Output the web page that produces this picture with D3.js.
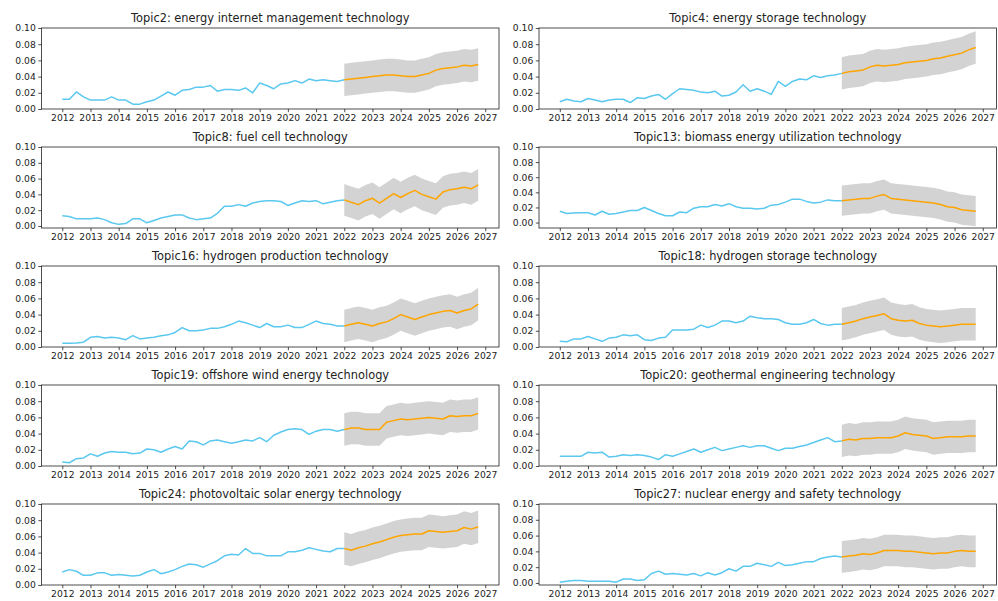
<!DOCTYPE html>
<html>
<head>
<meta charset="utf-8">
<script src="https://cdn.jsdelivr.net/npm/d3@7"></script>
<style>
  body { margin: 0; background: #fff; }
  text { font-family: "DejaVu Sans", sans-serif; fill: #222; }
</style>
</head>
<body>
<script>
// topic titles, in panel order (row by row, left then right)
var titles = [
    "Topic2: energy internet management technology",
    "Topic4: energy storage technology",
    "Topic8: fuel cell technology",
    "Topic13: biomass energy utilization technology",
    "Topic16: hydrogen production technology",
    "Topic18: hydrogen storage technology",
    "Topic19: offshore wind energy technology",
    "Topic20: geothermal engineering technology",
    "Topic24: photovoltaic solar energy technology",
    "Topic27: nuclear energy and safety technology"
];

var yearTicks = [2012, 2013, 2014, 2015, 2016, 2017, 2018, 2019, 2020, 2021, 2022, 2023, 2024, 2025, 2026, 2027];
var valueTicks = [0, 0.02, 0.04, 0.06, 0.08, 0.10];

var historyStart = 2012;   // quarterly history, 2012Q1 .. 2021Q4
var forecastStart = 2022;  // quarterly forecast, 2022Q1 .. 2026Q4
var ciHalfWidth = 0.02;    // half-width of the grey confidence band

// history (40 quarters)
var hist2  = [0.012,0.012,0.021,0.015,0.011,0.011,0.011,0.015,0.011,0.011,0.006,0.006,0.009,0.011,0.016,0.021,0.017,0.023,0.024,0.027,0.027,0.029,0.022,0.024,0.024,0.023,0.026,0.020,0.032,0.029,0.025,0.031,0.032,0.035,0.032,0.037,0.035,0.036,0.035,0.034];
var hist4  = [0.009,0.012,0.010,0.009,0.013,0.011,0.009,0.011,0.012,0.012,0.008,0.014,0.013,0.016,0.018,0.012,0.019,0.025,0.024,0.023,0.021,0.020,0.022,0.016,0.017,0.021,0.030,0.022,0.025,0.022,0.018,0.034,0.028,0.034,0.037,0.036,0.041,0.039,0.041,0.042];
var hist8  = [0.013,0.012,0.009,0.009,0.009,0.010,0.008,0.004,0.002,0.003,0.009,0.009,0.004,0.007,0.010,0.012,0.014,0.014,0.010,0.008,0.009,0.010,0.016,0.025,0.025,0.027,0.025,0.029,0.031,0.032,0.032,0.031,0.026,0.029,0.032,0.031,0.032,0.028,0.030,0.032];
var hist13 = [0.015,0.012,0.0125,0.013,0.013,0.010,0.015,0.011,0.012,0.014,0.016,0.016,0.020,0.016,0.012,0.009,0.009,0.014,0.013,0.019,0.021,0.021,0.024,0.022,0.025,0.021,0.019,0.019,0.018,0.019,0.023,0.024,0.027,0.031,0.031,0.028,0.026,0.027,0.030,0.029];
var hist16 = [0.0045,0.0045,0.005,0.006,0.012,0.013,0.011,0.012,0.011,0.009,0.014,0.010,0.011,0.012,0.014,0.015,0.018,0.024,0.020,0.020,0.021,0.023,0.023,0.025,0.028,0.032,0.030,0.027,0.024,0.029,0.025,0.025,0.027,0.024,0.024,0.028,0.032,0.029,0.028,0.026];
var hist18 = [0.007,0.0065,0.010,0.010,0.013,0.010,0.007,0.011,0.012,0.015,0.014,0.015,0.009,0.008,0.011,0.012,0.021,0.021,0.021,0.022,0.027,0.024,0.027,0.032,0.032,0.030,0.032,0.038,0.036,0.035,0.035,0.034,0.030,0.028,0.028,0.030,0.034,0.029,0.027,0.028];
var hist19 = [0.005,0.004,0.009,0.010,0.015,0.012,0.016,0.018,0.017,0.017,0.015,0.016,0.021,0.020,0.017,0.021,0.024,0.021,0.031,0.030,0.026,0.031,0.032,0.030,0.028,0.030,0.032,0.031,0.035,0.030,0.038,0.042,0.045,0.046,0.045,0.039,0.043,0.045,0.045,0.043];
var hist20 = [0.012,0.012,0.012,0.012,0.017,0.016,0.017,0.011,0.012,0.014,0.013,0.014,0.013,0.011,0.008,0.014,0.012,0.015,0.018,0.021,0.017,0.020,0.023,0.019,0.021,0.023,0.025,0.023,0.025,0.025,0.022,0.019,0.022,0.022,0.024,0.026,0.029,0.032,0.035,0.030];
var hist24 = [0.016,0.019,0.017,0.012,0.012,0.015,0.015,0.012,0.013,0.012,0.011,0.012,0.016,0.019,0.014,0.016,0.019,0.023,0.026,0.025,0.022,0.026,0.030,0.036,0.038,0.037,0.045,0.039,0.039,0.036,0.036,0.036,0.041,0.041,0.043,0.046,0.044,0.042,0.041,0.045];
var hist27 = [0.001,0.002,0.003,0.003,0.002,0.002,0.002,0.002,0.001,0.005,0.005,0.003,0.004,0.012,0.015,0.011,0.012,0.011,0.010,0.012,0.009,0.013,0.010,0.013,0.018,0.015,0.021,0.021,0.025,0.023,0.021,0.026,0.022,0.023,0.025,0.027,0.027,0.031,0.033,0.034];

// forecast (20 quarters)
var fc2  = [0.036,0.037,0.038,0.039,0.040,0.041,0.042,0.042,0.041,0.040,0.040,0.042,0.044,0.048,0.050,0.051,0.052,0.054,0.053,0.055];
var fc4  = [0.044,0.046,0.047,0.048,0.052,0.054,0.053,0.054,0.055,0.057,0.058,0.059,0.060,0.062,0.063,0.065,0.067,0.069,0.073,0.076];
var fc8  = [0.033,0.030,0.027,0.032,0.035,0.029,0.035,0.041,0.036,0.041,0.045,0.040,0.037,0.034,0.043,0.046,0.047,0.049,0.047,0.052];
var fc13 = [0.029,0.030,0.031,0.032,0.032,0.035,0.037,0.032,0.031,0.030,0.029,0.028,0.027,0.026,0.024,0.021,0.020,0.017,0.016,0.015];
var fc16 = [0.026,0.028,0.030,0.028,0.026,0.029,0.031,0.035,0.040,0.037,0.034,0.037,0.040,0.042,0.044,0.045,0.042,0.045,0.047,0.053];
var fc18 = [0.028,0.030,0.032,0.035,0.037,0.039,0.041,0.035,0.033,0.032,0.033,0.029,0.027,0.026,0.025,0.026,0.027,0.028,0.028,0.028];
var fc19 = [0.045,0.047,0.047,0.045,0.045,0.045,0.054,0.056,0.058,0.057,0.058,0.059,0.060,0.059,0.058,0.062,0.061,0.062,0.062,0.065];
var fc20 = [0.031,0.033,0.032,0.034,0.034,0.035,0.035,0.035,0.037,0.041,0.039,0.038,0.037,0.034,0.035,0.036,0.036,0.036,0.037,0.037];
var fc24 = [0.045,0.043,0.046,0.048,0.051,0.053,0.056,0.059,0.061,0.062,0.063,0.063,0.067,0.066,0.065,0.066,0.067,0.071,0.069,0.072];
var fc27 = [0.033,0.034,0.035,0.037,0.036,0.038,0.041,0.041,0.041,0.040,0.040,0.039,0.038,0.037,0.038,0.038,0.040,0.041,0.040,0.040];

// lower y limit of each panel (matplotlib autoscaled a few of them below zero)
var yBottoms = [0, 0, -0.0026, -0.0072, 0, 0, 0, 0, 0, -0.0026];

var histories = [hist2, hist4, hist8, hist13, hist16, hist18, hist19, hist20, hist24, hist27];
var forecasts = [fc2, fc4, fc8, fc13, fc16, fc18, fc19, fc20, fc24, fc27];

const width = 998;
const height = 601;
const colX = [[41.5, 499], [539, 996.5]];
const firstTop = 28;
const rowStep = 119;
const plotH = 81;

const blue = "#5bc8ef";
const orange = "#ffa500";
const band = "#d3d3d3";

const svg = d3.select("body").append("svg")
    .attr("width", width)
    .attr("height", height);

titles.forEach(function (title, i) {
    var col = i % 2;
    var row = Math.floor(i / 2);
    var x0 = colX[col][0], x1 = colX[col][1];
    var top = firstTop + row * rowStep;
    var bottom = top + plotH;

    var x = d3.scaleLinear().domain([2011.2625, 2027.4875]).range([x0, x1]);
    var y = d3.scaleLinear().domain([yBottoms[i], 0.1]).range([bottom, top]);

    var hist = histories[i].map(function (v, k) { return { t: historyStart + k / 4, v: v }; });
    var fc = forecasts[i].map(function (v, k) { return { t: forecastStart + k / 4, v: v }; });

    const g = svg.append("g").attr("class", "panel");

    // confidence band
    g.append("path")
        .datum(fc)
        .attr("fill", band)
        .attr("d", d3.area()
            .x(d => x(d.t))
            .y0(d => y(d.v - ciHalfWidth))
            .y1(d => y(d.v + ciHalfWidth)));

    var line = d3.line().x(d => x(d.t)).y(d => y(d.v));

    g.append("path")
        .datum(hist.concat([fc[0]]))
        .attr("fill", "none")
        .attr("stroke", blue)
        .attr("stroke-width", 1.5)
        .attr("stroke-linejoin", "round")
        .attr("d", line);

    g.append("path")
        .datum(fc)
        .attr("fill", "none")
        .attr("stroke", orange)
        .attr("stroke-width", 1.5)
        .attr("stroke-linejoin", "round")
        .attr("d", line);

    // axes
    var xAxis = g.append("g")
        .attr("transform", `translate(0,${bottom})`)
        .call(d3.axisBottom(x)
            .tickValues(yearTicks)
            .tickFormat(d3.format("d"))
            .tickSize(3.2)
            .tickPadding(2.5));

    var yAxis = g.append("g")
        .attr("transform", `translate(${x0},0)`)
        .call(d3.axisLeft(y)
            .tickValues(valueTicks)
            .tickFormat(d3.format(".2f"))
            .tickSize(3.2)
            .tickPadding(2.5));

    [xAxis, yAxis].forEach(function (a) {
        a.select(".domain").remove();
        a.selectAll("line").attr("stroke", "#222").attr("stroke-width", 0.8);
        a.selectAll("text")
            .attr("font-size", "9.2px")
            .attr("font-family", "DejaVu Sans, sans-serif")
            .attr("fill", "#222");
    });

    // frame
    g.append("rect")
        .attr("x", x0)
        .attr("y", top)
        .attr("width", x1 - x0)
        .attr("height", plotH)
        .attr("fill", "none")
        .attr("stroke", "#222")
        .attr("stroke-width", 0.8);

    g.append("text")
        .attr("x", (x0 + x1) / 2)
        .attr("y", top - 6)
        .attr("text-anchor", "middle")
        .attr("font-size", "11.4px")
        .text(title);
});
</script>
</body>
</html>
